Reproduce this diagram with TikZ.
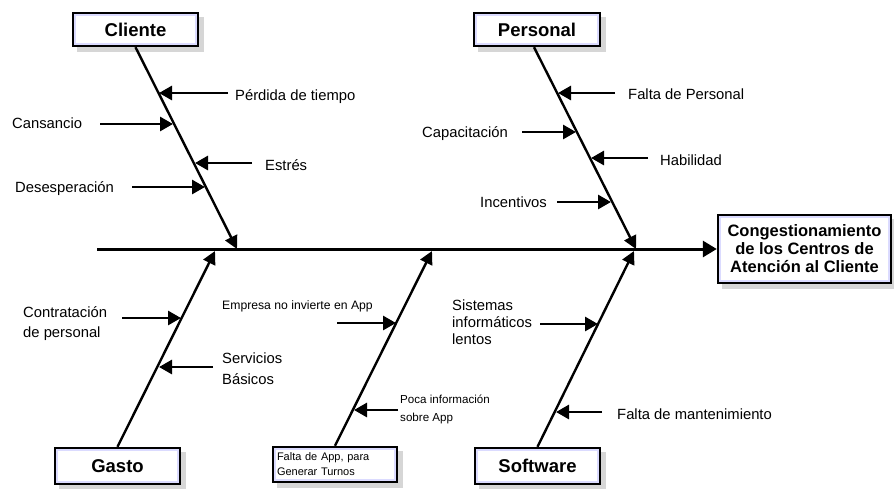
\documentclass[tikz,border=0pt]{standalone}
\usepackage{fontspec}
\setmainfont{Liberation Sans}
\usetikzlibrary{arrows.meta}

\tikzset{
  catbox/.style={draw=black, line width=2.4pt, fill=white, inner sep=0pt,
    font=\fontsize{18.5}{20}\selectfont\bfseries,
    preaction={draw=black!16, fill=black!16, transform canvas={xshift=5pt, yshift=-5pt}},
    path picture={\draw[blue!14, line width=6pt] (path picture bounding box.south west) rectangle (path picture bounding box.north east);}},
  bone/.style={line width=2.4pt, -{Triangle[length=13pt,width=13pt]}},
  cause/.style={line width=2.8pt, -{Triangle[length=13pt,width=14pt]}},
  lbl/.style={anchor=base west, inner sep=0pt, align=left, font=\fontsize{14.8}{20}\selectfont},
}

\begin{document}
\begin{tikzpicture}[x=1pt,y=1pt,yscale=-1,xscale=1]
    \useasboundingbox (0,0) rectangle (894,488);

    %Boxes
    \node[catbox, minimum width=173, minimum height=68, align=center, font=\fontsize{16.5}{18}\selectfont\bfseries] (efecto) at (804.5,249) {Congestionamiento\\de los Centros de\\Atención al Cliente};
    \node[catbox, minimum width=125, minimum height=33] (cliente) at (135.5,29.5) {Cliente};
    \node[catbox, minimum width=126, minimum height=33] (personal) at (537,29.5) {Personal};
    \node[catbox, minimum width=125, minimum height=36] (gasto) at (117.5,466) {Gasto};
    \node[catbox, minimum width=125, minimum height=36] (software) at (537.5,466) {Software};
    \node[catbox, minimum width=124, minimum height=35, text width=116, align=left, inner xsep=4pt, font=\fontsize{11}{15}\selectfont] (app) at (335,464.5) {Falta de App, para\\Generar Turnos};

    %Spine and bones
    \coordinate (inicio) at (97,249);
    \coordinate (spC) at (237,249);
    \coordinate (spP) at (636,249);
    \coordinate (spG) at (215,251);
    \coordinate (spA) at (432,251);
    \coordinate (spS) at (634,251);
    \draw[line width=3pt, -{Triangle[length=14pt,width=16pt]}] (inicio) -- (efecto.west);
    \draw[bone] (cliente.south) -- (spC);
    \draw[bone] ([xshift=-3]personal.south) -- (spP);
    \draw[bone] (gasto.north) -- (spG);
    \draw[bone] (app.north) -- (spA);
    \draw[bone] (software.north) -- (spS);

    % Text Node
    \node[lbl] (perdida) at (235,100) {Pérdida de tiempo};
    \node[lbl] (cansancio) at (12,128) {Cansancio};
    \node[lbl] (estres) at (265,170) {Estrés};
    \node[lbl] (desesp) at (15,192) {Desesperación};
    \node[lbl] (faltaper) at (628,99) {Falta de Personal};
    \node[lbl] (capac) at (422,137) {Capacitación};
    \node[lbl] (habil) at (660,165) {Habilidad};
    \node[lbl] (incent) at (480,207) {Incentivos};
    \node[lbl] (contrat) at (23,337) {Contratación\\de personal};
    \node[lbl, font=\fontsize{14.8}{21}\selectfont] (servic) at (222,384) {Servicios\\Básicos};
    \node[lbl, font=\fontsize{12.2}{15}\selectfont] (empresa) at (222,309) {Empresa no invierte en App};
    \node[lbl, font=\fontsize{11.6}{18}\selectfont] (poca) at (400,421) {Poca información\\sobre App};
    \node[lbl, font=\fontsize{14.8}{17}\selectfont] (sistemas) at (452,344) {Sistemas\\informáticos\\lentos};
    \node[lbl] (faltaman) at (617,419) {Falta de mantenimiento};

    %Cause arrows
    \coordinate (perdida-s) at (228,93);   \coordinate (perdida-t) at (159,93);
    \coordinate (cansancio-s) at (100,124); \coordinate (cansancio-t) at (173,124);
    \coordinate (estres-s) at (252,163);   \coordinate (estres-t) at (195,163);
    \coordinate (desesp-s) at (132,187);   \coordinate (desesp-t) at (205,187);
    \coordinate (faltaper-s) at (615,93);  \coordinate (faltaper-t) at (558,93);
    \coordinate (capac-s) at (522,132);    \coordinate (capac-t) at (576,132);
    \coordinate (habil-s) at (648,158);    \coordinate (habil-t) at (591,158);
    \coordinate (incent-s) at (557,202);   \coordinate (incent-t) at (611,202);
    \coordinate (contrat-s) at (122,318);  \coordinate (contrat-t) at (181,318);
    \coordinate (servic-s) at (213,367);   \coordinate (servic-t) at (159,367);
    \coordinate (empresa-s) at (337,323);  \coordinate (empresa-t) at (396,323);
    \coordinate (poca-s) at (398,410);     \coordinate (poca-t) at (354,410);
    \coordinate (sistemas-s) at (540,324); \coordinate (sistemas-t) at (598,324);
    \coordinate (faltaman-s) at (602,412); \coordinate (faltaman-t) at (556,412);
    \foreach \c in {perdida,cansancio,estres,desesp,faltaper,capac,habil,incent,contrat,servic,empresa,poca,sistemas,faltaman}
      \draw[cause] (\c-s) -- (\c-t);

\end{tikzpicture}
\end{document}
